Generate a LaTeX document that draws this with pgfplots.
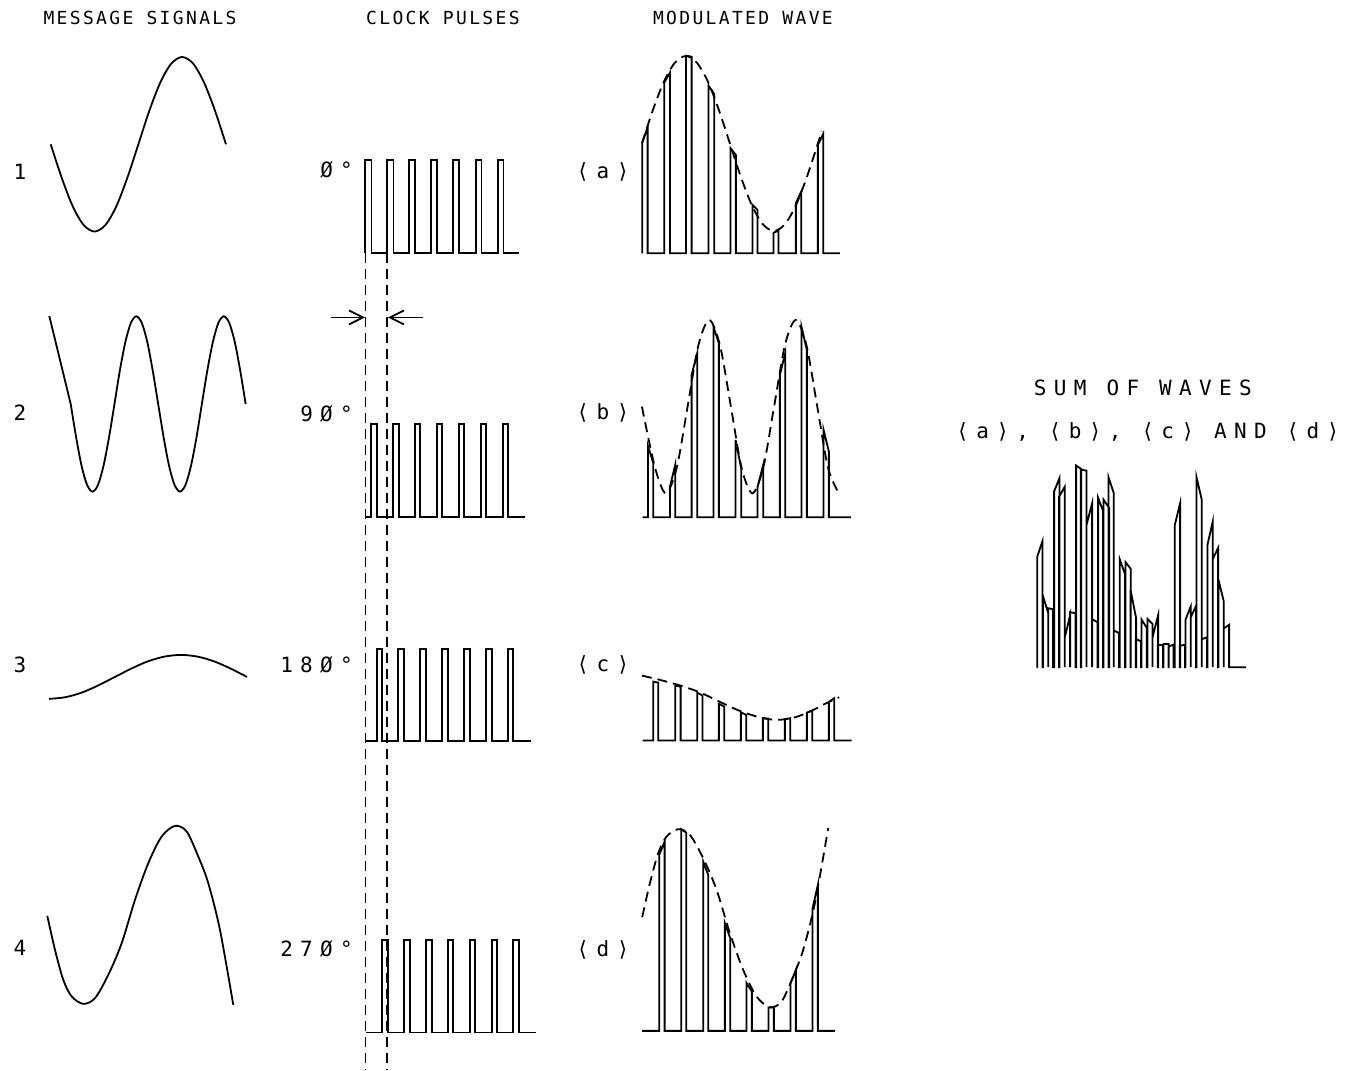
\documentclass[border=0pt]{standalone}
\usepackage{fontspec}
\usepackage{pgfplots}
\pgfplotsset{compat=1.18}
\usetikzlibrary{arrows.meta}
\newfontfamily\tf[LetterSpace=13]{DejaVu Sans Mono}
\newfontfamily\lf[LetterSpace=35]{DejaVu Sans Mono}
\newcommand\tfont{\tf\fontsize{9}{11}\selectfont}
\newcommand\lfont{\lf\fontsize{10.5}{12}\selectfont}
\begin{document}
\begin{tikzpicture}
\begin{axis}[hide axis, scale only axis, width=673pt, height=535pt,
  xmin=0, xmax=1346, ymin=0, ymax=1070, y dir=reverse, clip=false,
  ln/.style={black, line width=0.9pt, mark=none},
  dsh/.style={ln, dash pattern=on 5pt off 3pt}]
\path (axis cs:0,0) rectangle (axis cs:1346,1070);
% ---------- titles ----------
\node at (axis cs:140,18) {\tfont MESSAGE SIGNALS};
\node at (axis cs:443,18) {\tfont CLOCK PULSES};
\node at (axis cs:743,18) {\tfont MODULATED WAVE};
\node at (axis cs:20,172) {\lfont 1};
\node at (axis cs:20,413) {\lfont 2};
\node at (axis cs:20,665) {\lfont 3};
\node at (axis cs:20,948) {\lfont 4};
\node[anchor=east] at (axis cs:360,170) {\lfont Ø°};
\node[anchor=east] at (axis cs:360,414) {\lfont 9Ø°};
\node[anchor=east] at (axis cs:360,665) {\lfont 18Ø°};
\node[anchor=east] at (axis cs:360,949) {\lfont 27Ø°};
\node at (axis cs:603,172) {\lfont ⟨a⟩};
\node at (axis cs:603,413) {\lfont ⟨b⟩};
\node at (axis cs:603,665) {\lfont ⟨c⟩};
\node at (axis cs:603,950) {\lfont ⟨d⟩};
\node at (axis cs:1143,388) {\lfont SUM OF WAVES};
\node at (axis cs:1148,432) {\lfont ⟨a⟩, ⟨b⟩, ⟨c⟩ AND ⟨d⟩};
% ---------- message signals ----------
\addplot[ln, smooth] coordinates {(50.7,144.3)(61.7,177.7)(72.6,206)(83.6,225)(94.5,231.6)(105.5,225)(116.5,206)(127.4,177.7)(138.4,144.3)(149.3,110.9)(160.3,82.6)(171.3,63.6)(182.2,57)(193.2,63.6)(204.1,82.6)(215.1,110.9)(226,144.3)};
\addplot[ln] coordinates {(49.3,316)(70.7,404)};
\addplot[ln, smooth] coordinates {(70.7,404)(76.2,437.6)(81.6,466)(87.1,485)(92.6,491.7)(98.0,485)(103.5,466)(109.0,437.6)(114.5,404)(119.9,370.4)(125.4,342)(130.9,323)(136.3,316.3)(141.8,323)(147.3,342)(152.7,370.4)(158.2,404)(163.7,437.6)(169.1,466)(174.6,485)(180.1,491.7)(185.5,485)(191.0,466)(196.5,437.6)(201.9,404)(207.4,370.4)(212.9,342)(218.4,323)(223.8,316.3)(229.3,323)(234.8,342)(240.2,370.4)(245.7,404)};
\addplot[ln, smooth] coordinates {(49,699)(65.5,697.3)(82,692.6)(98.5,685.4)(115,677)(131.5,668.6)(148,661.4)(164.5,656.7)(181,655)(197.5,656.7)(214,661.4)(230.5,668.6)(247,677)};
\addplot[ln, smooth] coordinates {(47.3,916)(55,950)(63.3,980)(71.7,996.6)(83.3,1004)(95,998.3)(108.3,975)(121.7,943.3)(135,900)(148.3,863.3)(161.7,836.6)(175,826)(186.7,831.6)(198.3,856.6)(208.3,883.3)(220,930)(233.3,1005)};
% ---------- clock pulses ----------
\addplot[ln] coordinates {(365,253)(365,160)(371.5,160)(371.5,253)(387,253)(387,160)(393.5,160)(393.5,253)(409,253)(409,160)(415,160)(415,253)(431,253)(431,160)(437,160)(437,253)(453,253)(453,160)(459,160)(459,253)(476,253)(476,160)(481.5,160)(481.5,253)(498,253)(498,160)(503.5,160)(503.5,253)(519,253)};
\addplot[ln] coordinates {(366,516.7)(371,516.7)(371,424)(376.7,424)(376.7,516.7)(393.3,516.7)(393.3,424)(398.7,424)(398.7,516.7)(415,516.7)(415,424)(420,424)(420,516.7)(437,516.7)(437,424)(442.3,424)(442.3,516.7)(459,516.7)(459,424)(464.3,424)(464.3,516.7)(480.7,516.7)(480.7,424)(486,424)(486,516.7)(502.7,516.7)(502.7,424)(508.3,424)(508.3,516.7)(525,516.7)};
\addplot[ln] coordinates {(366,741)(376.7,741)(376.7,649)(382,649)(382,741)(398.3,741)(398.3,649)(404,649)(404,741)(420.3,741)(420.3,649)(425.7,649)(425.7,741)(442.3,741)(442.3,649)(447.7,649)(447.7,741)(464.3,741)(464.3,649)(469.7,649)(469.7,741)(486,741)(486,649)(491.7,649)(491.7,741)(508,741)(508,649)(513.3,649)(513.3,741)(530.7,741)};
\addplot[ln] coordinates {(366,1032.7)(382.3,1032.7)(382.3,940)(387.7,940)(387.7,1032.7)(404,1032.7)(404,940)(409.7,940)(409.7,1032.7)(426,1032.7)(426,940)(431.7,940)(431.7,1032.7)(448,1032.7)(448,940)(453.3,940)(453.3,1032.7)(469.7,1032.7)(469.7,940)(475.3,940)(475.3,1032.7)(491.7,1032.7)(491.7,940)(497.3,940)(497.3,1032.7)(513.3,1032.7)(513.3,940)(519,940)(519,1032.7)(536,1032.7)};
\addplot[dsh] coordinates {(365.5,253)(365.5,1070)};
\addplot[dsh] coordinates {(387.3,253)(387.3,1070)};
\addplot[ln, -{Straight Barb[length=7pt,width=7pt]}] coordinates {(331,317.5)(365,317.5)};
\addplot[ln, -{Straight Barb[length=7pt,width=7pt]}] coordinates {(423,317.5)(388,317.5)};
% ---------- modulated waves ----------
\addplot[ln] coordinates {(642.3,253.3)(642.3,143)(647.7,127)(647.7,253.3)(664.3,253.3)(664.3,82.7)(670,72.7)(670,253.3)(686,253.3)(686,55.7)(691.7,56.7)(691.7,253.3)(708.7,253.3)(708.7,85.7)(714.3,94)(714.3,253.3)(730.7,253.3)(730.7,148.3)(736,155)(736,253.3)(752.7,253.3)(752.7,205)(757.7,210)(757.7,253.3)(773.7,253.3)(773.7,232.7)(778.7,230.7)(778.7,253.3)(796,253.3)(796,203.3)(801.3,191.7)(801.3,253.3)(818,253.3)(818,145)(823.3,134)(823.3,253.3)(840,253.3)};
\addplot[dsh, smooth] coordinates {(642,143.5)(653,110)(664,81.6)(675,62.7)(686,56)(697,62.7)(708,81.6)(719,110)(730,143.5)(741,177)(752,205.4)(763,224.4)(774,231)(785,224.4)(796,205.4)(807,177)(818,143.5)(822,131)};
\addplot[ln] coordinates {(642.7,517.3)(648,517.3)(648,445.7)(653.3,463)(653.3,517.3)(670,517.3)(670,487)(675.3,465)(675.3,517.3)(691.7,517.3)(691.7,375)(697.3,353.3)(697.3,517.3)(713.7,517.3)(713.7,327.3)(719,343.3)(719,517.3)(735.7,517.3)(735.7,440)(741.3,468.3)(741.3,517.3)(757.7,517.3)(757.7,487)(763.3,465)(763.3,517.3)(780,517.3)(780,375)(785.3,353.3)(785.3,517.3)(801.7,517.3)(801.7,327.3)(807,350)(807,517.3)(823.7,517.3)(823.7,430)(829,451.7)(829,517.3)(851,517.3)};
\addplot[dsh, smooth] coordinates {(642,406.7)(655.2,468)(666,493.4)(676.8,468)(687.7,406.7)(698.5,345.4)(709.3,320)(720.1,345.4)(731,406.7)(741.7,468)(752.5,493.4)(763.3,468)(774.2,406.7)(785,345.4)(795.8,320)(806.6,345.4)(817.4,406.7)(828.2,468)(839,493.4)};
\addplot[ln] coordinates {(642.7,740.7)(653.3,740.7)(653.3,681.7)(658.3,682.7)(658.3,740.7)(675.3,740.7)(675.3,685.7)(680.7,686.7)(680.7,740.7)(697.3,740.7)(697.3,692.7)(702.7,695.7)(702.7,740.7)(719,740.7)(719,704)(724.3,706.7)(724.3,740.7)(741,740.7)(741,712.3)(746.3,715)(746.3,740.7)(763,740.7)(763,718.3)(768.3,718.7)(768.3,740.7)(785,740.7)(785,719.3)(790.3,718.3)(790.3,740.7)(807,740.7)(807,712.7)(812.3,710.7)(812.3,740.7)(829,740.7)(829,702)(834.3,698.3)(834.3,740.7)(851.7,740.7)};
\addplot[dsh, smooth] coordinates {(642,675.7)(660,680)(680,685.5)(700,692.5)(720,702)(740,711)(760,717.5)(777,720)(795,717.5)(812,710.7)(825,704)(839.3,697.3)};
\addplot[ln] coordinates {(642.3,1031)(659.3,1031)(659.3,855)(664.7,841.7)(664.7,1031)(681.3,1031)(681.3,829.3)(686.3,832.7)(686.3,1031)(703.3,1031)(703.3,861.7)(708.3,875)(708.3,1031)(725,1031)(725,923.3)(730.3,938.3)(730.3,1031)(746.7,1031)(746.7,983.3)(752,991.7)(752,1031)(768.7,1031)(768.7,1007.7)(774,1007.7)(774,1031)(790.7,1031)(790.7,983.3)(796,970)(796,1031)(812.7,1031)(812.7,908.3)(818,885)(818,1031)(835,1031)};
\addplot[dsh, smooth] coordinates {(642.3,917.3)(650,883.3)(658.3,853.3)(666.7,836.7)(678.3,829.3)(690,835)(703.3,858.3)(716.7,890)(730,933.3)(743.3,970)(756.7,996.7)(770,1007.3)(781.7,1001.7)(793.3,976.7)(803.3,950)(815,903.3)(828.3,828.3)};
% ---------- sum of waves ----------
\addplot[ln] coordinates {(1036.7,667.3)
(1037.3,667.3)(1037.3,557)(1042.7,541)(1042.7,667.3)
(1043,667.3)(1043,595.7)(1048.3,613)(1048.3,667.3)
(1048.3,667.3)(1048.3,608.3)(1053.3,609.3)(1053.3,667.3)
(1054.3,667.3)(1054.3,491.3)(1059.7,478)(1059.7,667.3)
(1059.3,667.3)(1059.3,496.7)(1065,486.7)(1065,667.3)
(1065,667.3)(1065,637.3)(1070.3,615.3)(1070.3,667.3)
(1070.3,667.3)(1070.3,612.3)(1075.7,613.3)(1075.7,667.3)
(1076.3,667.3)(1076.3,465.6)(1081.3,469)(1081.3,667.3)
(1081,667.3)(1081,469.7)(1086.7,470.7)(1086.7,667.3)
(1086.7,667.3)(1086.7,525)(1092.3,503.3)(1092.3,667.3)
(1092.3,667.3)(1092.3,619.3)(1097.7,622.3)(1097.7,667.3)
(1098.3,667.3)(1098.3,498)(1103.3,511.3)(1103.3,667.3)
(1103.7,667.3)(1103.7,499.7)(1109.3,508)(1109.3,667.3)
(1108.7,667.3)(1108.7,477.3)(1114,493.3)(1114,667.3)
(1114,667.3)(1114,630.6)(1119.3,633.3)(1119.3,667.3)
(1120,667.3)(1120,559.6)(1125.3,574.6)(1125.3,667.3)
(1125.7,667.3)(1125.7,562.3)(1131,569)(1131,667.3)
(1130.7,667.3)(1130.7,590)(1136.3,618.3)(1136.3,667.3)
(1136,667.3)(1136,638.9)(1141.3,641.6)(1141.3,667.3)
(1141.7,667.3)(1141.7,619.6)(1147,628)(1147,667.3)
(1147.7,667.3)(1147.7,619)(1152.7,624)(1152.7,667.3)
(1152.7,667.3)(1152.7,637.3)(1158.3,615.3)(1158.3,667.3)
(1158,667.3)(1158,644.9)(1163.3,645.3)(1163.3,667.3)
(1163.7,667.3)(1163.7,644)(1169,644)(1169,667.3)
(1168.7,667.3)(1168.7,646.7)(1173.7,644.7)(1173.7,667.3)
(1175,667.3)(1175,525)(1180.3,503.3)(1180.3,667.3)
(1180,667.3)(1180,645.9)(1185.3,644.9)(1185.3,667.3)
(1185.7,667.3)(1185.7,619.6)(1191,606.3)(1191,667.3)
(1191,667.3)(1191,617.3)(1196.3,605.7)(1196.3,667.3)
(1196.7,667.3)(1196.7,477.3)(1202,500)(1202,667.3)
(1202,667.3)(1202,639.3)(1207.3,637.3)(1207.3,667.3)
(1207.7,667.3)(1207.7,544.6)(1213,521.3)(1213,667.3)
(1213,667.3)(1213,559)(1218.3,548)(1218.3,667.3)
(1218.7,667.3)(1218.7,580)(1224,601.7)(1224,667.3)
(1224,667.3)(1224,628.6)(1229.3,624.9)(1229.3,667.3)
(1246,667.3)};
\end{axis}
\end{tikzpicture}
\end{document}
